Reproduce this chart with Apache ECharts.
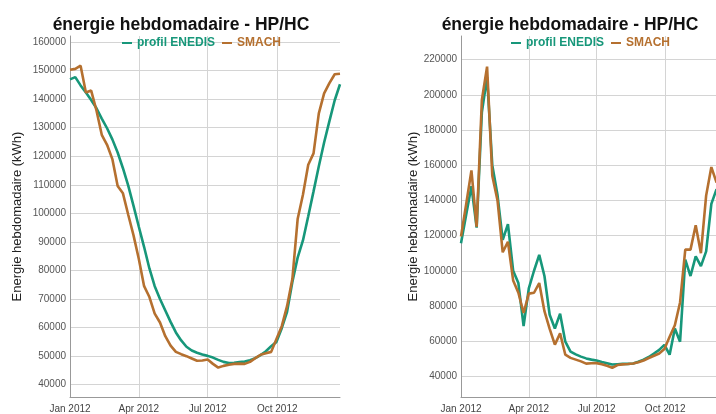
<!DOCTYPE html>
<html>
<head>
<meta charset="utf-8">
<script src="https://cdn.jsdelivr.net/npm/echarts@6/dist/echarts.min.js"></script>
<style>
html,body{margin:0;padding:0;background:#fff;overflow:hidden;width:716px;height:414px;}
#c{width:760px;height:414px;}
</style>
</head>
<body>
<div id="c"></div>
<script>
// Weekly dates (2012)
const weeks = [
 '2012-01-01','2012-01-08','2012-01-15','2012-01-22','2012-01-29',
 '2012-02-05','2012-02-12','2012-02-19','2012-02-26',
 '2012-03-04','2012-03-11','2012-03-18','2012-03-25',
 '2012-04-01','2012-04-08','2012-04-15','2012-04-22','2012-04-29',
 '2012-05-06','2012-05-13','2012-05-20','2012-05-27',
 '2012-06-03','2012-06-10','2012-06-17','2012-06-24',
 '2012-07-01','2012-07-08','2012-07-15','2012-07-22','2012-07-29',
 '2012-08-05','2012-08-12','2012-08-19','2012-08-26',
 '2012-09-02','2012-09-09','2012-09-16','2012-09-23','2012-09-30',
 '2012-10-07','2012-10-14','2012-10-21','2012-10-28',
 '2012-11-04','2012-11-11','2012-11-18','2012-11-25',
 '2012-12-02','2012-12-09','2012-12-16','2012-12-23'
];
// Left chart
const leftEnedis = [146900,147700,144800,142300,139700,136800,133200,129800,125900,121300,
 115800,109700,102600,95300,88200,80700,74500,70000,66000,62000,
 58300,55500,53300,52000,51200,50600,50100,49500,48700,48000,
 47600,47700,47900,48100,48600,49300,50400,51700,53500,55000,
 59800,65500,76000,84500,90500,99000,107700,116500,124800,132300,
 139600,145200];
const leftSmach = [150300,150600,151700,142300,143000,136000,127500,124000,119000,109600,
 107000,99500,92300,84000,74500,70700,64900,61800,57000,53700,
 51500,50700,50000,49200,48400,48500,48800,47300,46000,46600,
 47000,47300,47400,47300,48000,49300,50500,51000,51500,56000,
 60500,67500,77000,98000,106500,117000,121000,135000,142000,145600,
 148700,148900];
// Right chart
const rightEnedis = [115600,132000,148000,124500,190000,210000,160000,143000,117500,126500,
 100000,93000,68500,90000,100000,109000,97000,75000,67200,75600,
 59700,54100,52500,51200,50200,49500,49000,48200,47500,46700,
 46900,47100,47100,47300,48300,49500,51000,53000,55000,57900,
 52300,67200,59700,106300,97000,108200,102600,111000,138000,146400];
const rightSmach = [119500,138000,157000,125000,197000,216000,154000,140000,110500,116500,
 94500,87500,76000,87000,87500,93000,77000,67000,58000,64400,
 52300,50500,49500,48500,47200,47400,47500,46900,46000,44900,
 46400,46800,47000,47300,48000,49000,50400,51700,53000,55500,
 62500,69000,82000,112000,112000,125900,110000,142700,158900,150100];
const leftTicks = [40000,50000,60000,70000,80000,90000,100000,110000,120000,130000,140000,150000,160000];
const rightTicks = [40000,60000,80000,100000,120000,140000,160000,180000,200000,220000];
const xTickDates = ['2012-01-01','2012-04-01','2012-07-01','2012-10-01'];
const xEndDate = '2012-12-23';
const monthNames = ['Jan','Feb','Mar','Apr','May','Jun','Jul','Aug','Sep','Oct','Nov','Dec'];
const title = 'énergie hebdomadaire - HP/HC';
const yName = 'Energie hebdomadaire (kWh)';

const C_EN = '#17977a', C_SM = '#b5702f';
const FONT = 'Arial, "Liberation Sans", sans-serif';
const ts = s => Date.UTC(+s.slice(0,4), +s.slice(5,7)-1, +s.slice(8,10));
const pair = (arr) => arr.map((v,i) => [ts(weeks[i]), v]);
const xTicks = xTickDates.map(ts);
const xMin = xTicks[0];
const xMax = ts(xEndDate);

function xAxis(gi){
  return {
    type:'value', gridIndex:gi, min:xMin, max:xMax,
    axisLine:{show:true, lineStyle:{color:'#999', width:1}},
    axisTick:{show:false, customValues:xTicks},
    axisLabel:{customValues:xTicks, color:'#444', fontSize:10, fontFamily:FONT, margin:7,
      formatter:v => { const d=new Date(v); return monthNames[d.getUTCMonth()]+' '+d.getUTCFullYear(); }},
    splitLine:{show:true, lineStyle:{color:'#d4d4d4', width:1}}
  };
}
function yAxis(gi, min, max, ticks, gap){
  return {
    type:'value', gridIndex:gi, min:min, max:max,
    name:yName, nameLocation:'middle', nameGap:gap, nameRotate:90,
    nameTextStyle:{color:'#222', fontSize:13, fontFamily:FONT},
    axisLine:{show:true, lineStyle:{color:'#999', width:1}},
    axisTick:{show:false, customValues:ticks},
    axisLabel:{customValues:ticks, color:'#555', fontSize:10, fontFamily:FONT, margin:4,
      formatter:v => String(v)},
    splitLine:{show:true, lineStyle:{color:'#d4d4d4', width:1}}
  };
}
function line(name, data, color, xi, yi){
  return {type:'line', name:name, data:data, xAxisIndex:xi, yAxisIndex:yi,
    showSymbol:false, symbol:'none', lineStyle:{color:color, width:2.6}, itemStyle:{color:color},
    animation:false};
}
function legend(left){
  return {
    left:left, top:32, itemWidth:10, itemHeight:2, itemGap:7, icon:'rect',
    data:[{name:'profil ENEDIS', textStyle:{color:C_EN}}, {name:'SMACH', textStyle:{color:C_SM}}],
    textStyle:{fontSize:12, fontWeight:'bold', fontFamily:FONT},
    selectedMode:false
  };
}

const chart = echarts.init(document.getElementById('c'), null, {renderer:'canvas'});
chart.setOption({
  backgroundColor:'#fff',
  animation:false,
  title:[
    {text:title, left:176, top:11, textAlign:'center', textStyle:{fontSize:17.5, fontWeight:'bold', color:'#111', fontFamily:FONT}},
    {text:title, left:565, top:11, textAlign:'center', textStyle:{fontSize:17.5, fontWeight:'bold', color:'#111', fontFamily:FONT}}
  ],
  legend:[legend(117), legend(506)],
  grid:[
    {left:70, top:36, width:270, height:367},
    {left:461, top:36, width:266, height:367}
  ],
  xAxis:[xAxis(0), xAxis(1)],
  yAxis:[yAxis(0, 35700, 162100, leftTicks, 46), yAxis(1, 28260, 233400, rightTicks, 39)],
  series:[
    line('profil ENEDIS', pair(leftEnedis), C_EN, 0, 0),
    line('SMACH', pair(leftSmach), C_SM, 0, 0),
    line('profil ENEDIS', pair(rightEnedis), C_EN, 1, 1),
    line('SMACH', pair(rightSmach), C_SM, 1, 1)
  ]
});
</script>
</body>
</html>
